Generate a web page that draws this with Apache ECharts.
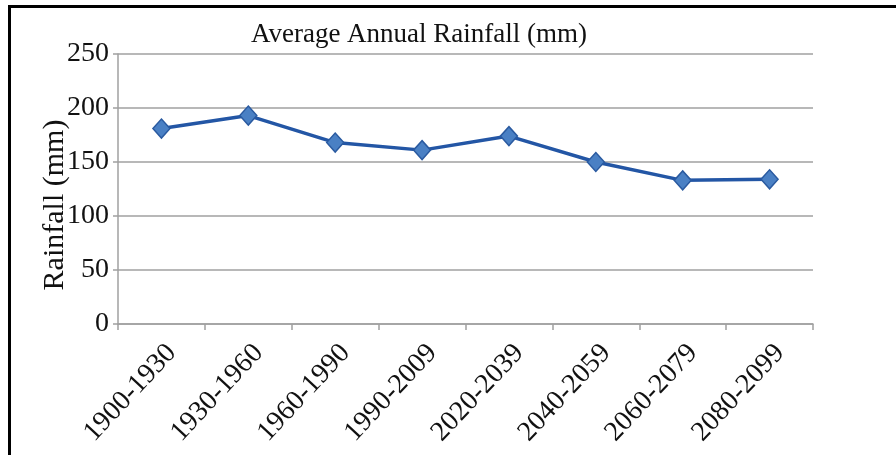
<!DOCTYPE html>
<html>
<head>
<meta charset="utf-8">
<style>
  html, body { margin: 0; padding: 0; background: #fff; overflow: hidden; }
  #frame {
    position: absolute; left: 8px; top: 5px; width: 900px; height: 470px;
    border: 3px solid #000; box-sizing: border-box;
  }
  #chart { position: absolute; left: 0; top: 0; width: 896px; height: 455px; }
</style>
<script src="https://cdn.jsdelivr.net/npm/echarts@6/dist/echarts.min.js"></script>
</head>
<body>
<div id="frame"></div>
<div id="chart"></div>
<script>
// Periods on the category axis
const periods = ['1900-1930', '1930-1960', '1960-1990', '1990-2009',
                 '2020-2039', '2040-2059', '2060-2079', '2080-2099'];
// Average annual rainfall per period (mm)
const rainfall = [181, 193, 168, 161, 174, 150, 133, 134];
// Value axis range
const yMin = 0, yMax = 250, yStep = 50;

const serif = '"Liberation Serif", "DejaVu Serif", serif';
const chart = echarts.init(document.getElementById('chart'), null, { renderer: 'canvas' });
chart.setOption({
  animation: false,
  backgroundColor: 'transparent',
  title: {
    text: 'Average Annual Rainfall (mm)',
    left: 414, top: 16, textAlign: 'center',
    textStyle: { fontFamily: serif, fontSize: 27, fontWeight: 'normal', color: '#111' }
  },
  grid: { left: 118, right: 83, top: 54, bottom: 131 },
  xAxis: {
    type: 'category',
    data: periods,
    boundaryGap: true,
    axisLine: { lineStyle: { color: '#a0a0a0', width: 1.5 } },
    axisTick: { show: true, length: 6, lineStyle: { color: '#a0a0a0', width: 1.5 } },
    axisLabel: {
      rotate: 47, margin: 15, verticalAlign: 'top',
      fontFamily: serif, fontSize: 28, color: '#111'
    }
  },
  yAxis: {
    type: 'value',
    min: yMin, max: yMax, interval: yStep,
    name: 'Rainfall (mm)',
    nameLocation: 'middle',
    nameGap: 48,
    nameMoveOverlap: false,
    nameTextStyle: { fontFamily: serif, fontSize: 30, color: '#111', padding: [0, 32, 0, 0] },
    axisLine: { show: true, lineStyle: { color: '#a0a0a0', width: 1.5 } },
    axisTick: { show: true, length: 5, lineStyle: { color: '#a0a0a0', width: 1.5 } },
    axisLabel: { margin: 9, fontFamily: serif, fontSize: 28, color: '#111' },
    splitLine: { lineStyle: { color: '#a0a0a0', width: 1.5 } }
  },
  series: [{
    type: 'line',
    data: rainfall,
    symbol: 'diamond',
    symbolSize: [17, 19],
    lineStyle: { color: '#2356a5', width: 3.5 },
    itemStyle: { color: '#4a80c4', borderColor: '#2a5aa0', borderWidth: 1.5 }
  }]
});
</script>
</body>
</html>
